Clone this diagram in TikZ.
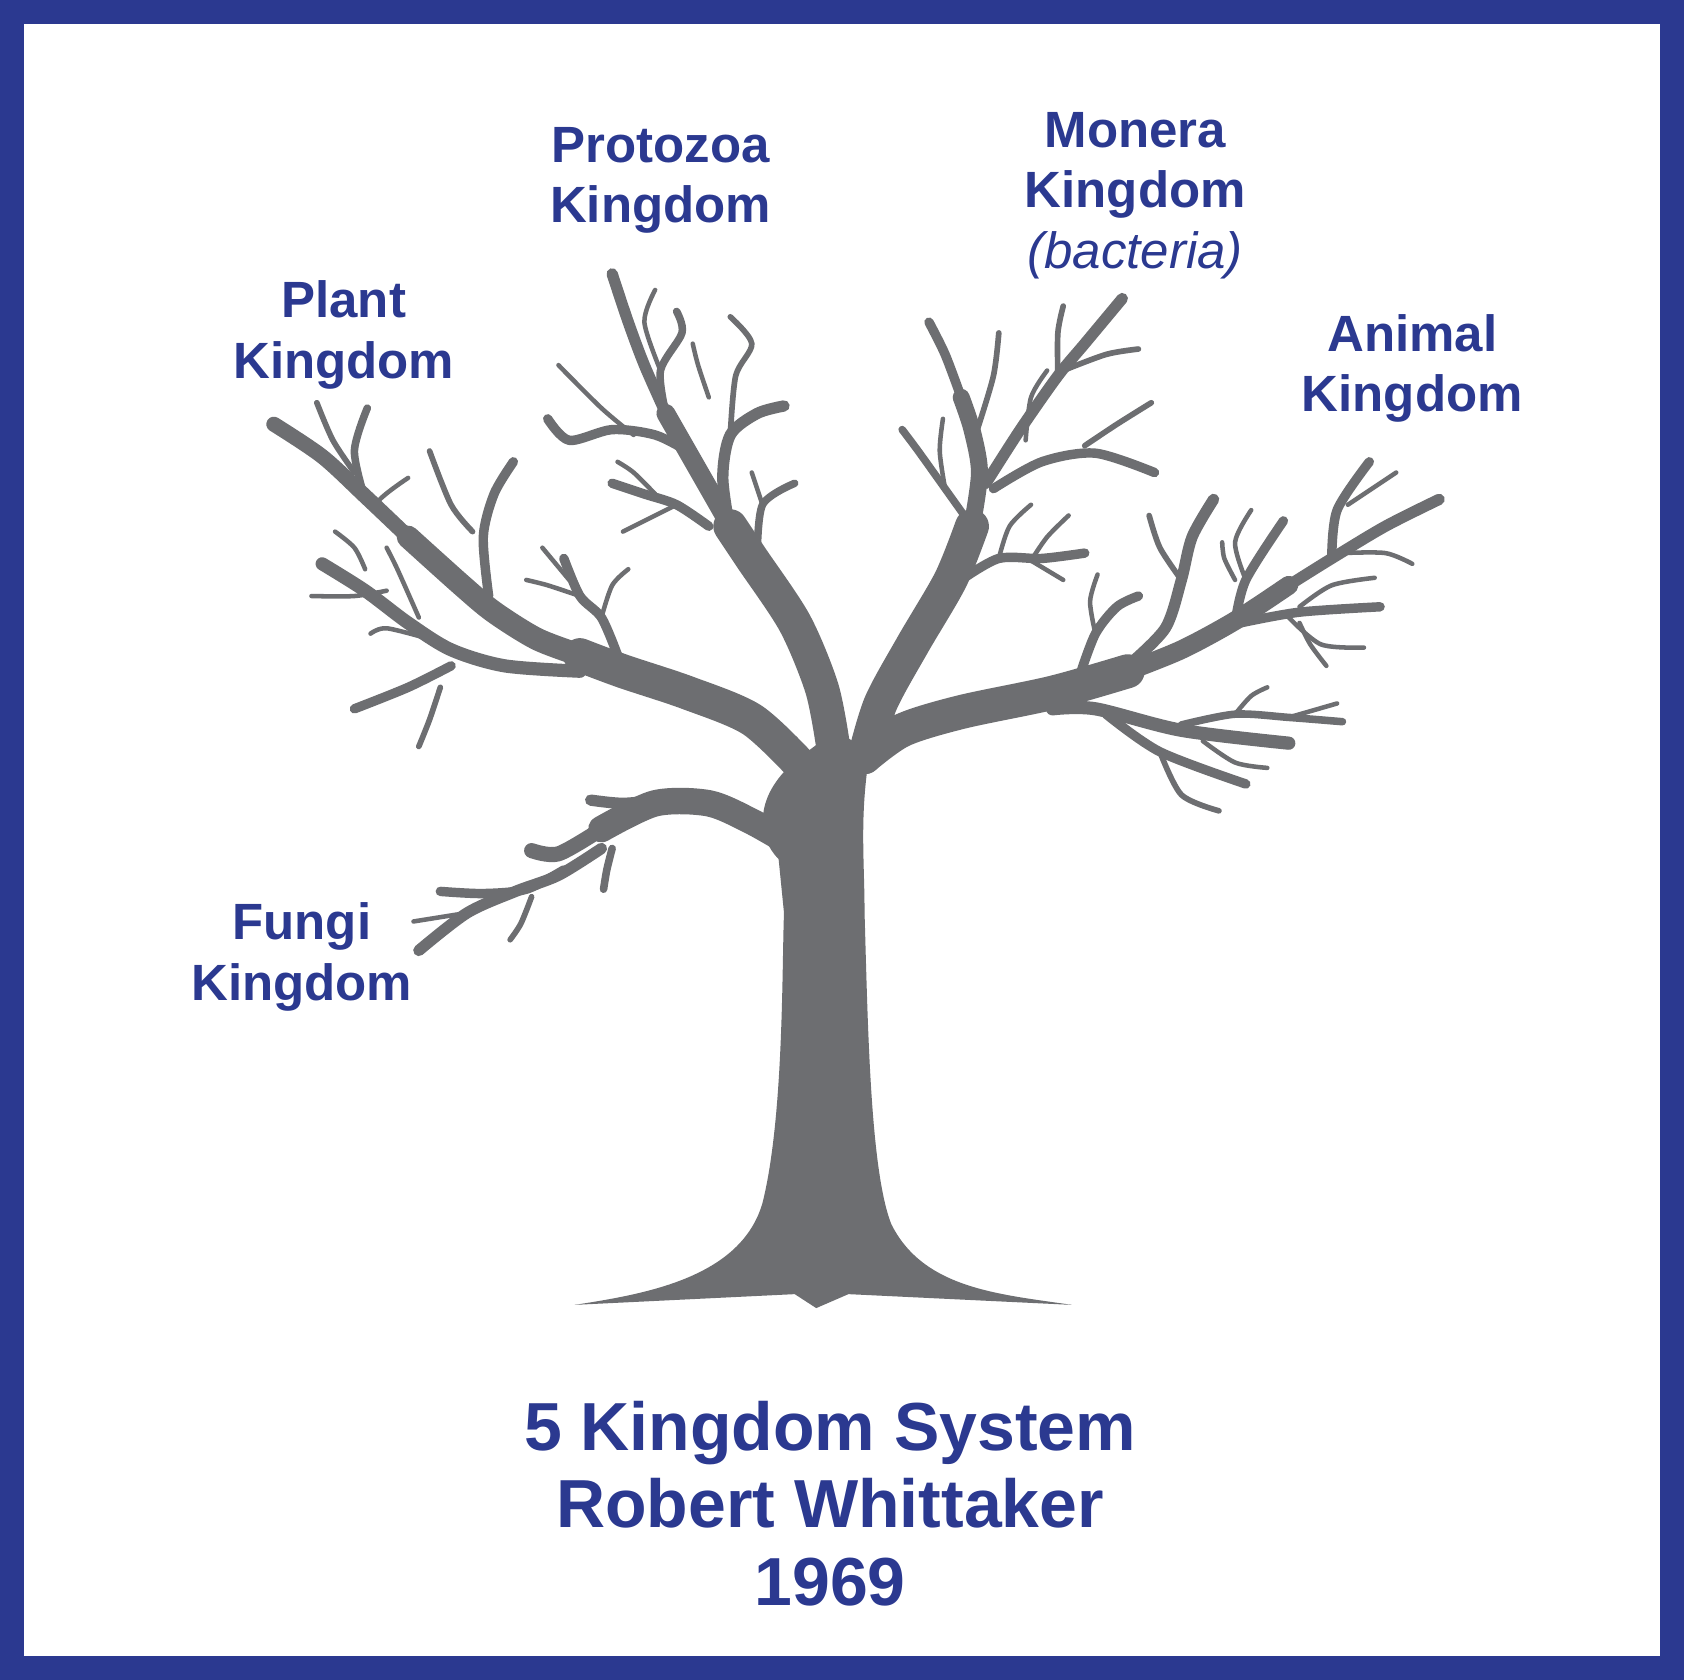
\documentclass[tikz,border=0pt]{standalone}
\usepackage{fontspec}
\setmainfont{Liberation Sans}
\definecolor{kblue}{HTML}{2B3990}
\definecolor{bark}{HTML}{6D6E71}
\tikzset{
  br/.style={draw=bark,line width=#1,line cap=round,line join=round},
  lab/.style={text=kblue,font=\bfseries\fontsize{13.5pt}{16pt}\selectfont,align=center},
}
\begin{document}
\begin{tikzpicture}[x=0.01cm,y=-0.01cm]
\useasboundingbox (0,0) rectangle (1568,1564);
\fill[kblue] (0,0) rectangle (1568,1564);
\fill[white] (22,22) rectangle (1546,1542);

% trunk
\fill[bark] (535,1215) .. controls (600,1205) and (690,1190) .. (710,1120)
  .. controls (730,1040) and (728,900) .. (730,850) -- (725,800)
  .. controls (705,780) and (700,740) .. (745,705) -- (778,680) -- (810,700)
  .. controls (800,760) and (805,800) .. (805,850)
  .. controls (808,950) and (810,1090) .. (830,1140)
  .. controls (860,1200) and (930,1205) .. (998,1215) -- (790,1205) -- (760,1218) -- (740,1205) -- cycle;

% plant
\draw[br=9pt] plot[smooth] coordinates {(745,712) (700,670) (640,645) (580,625) (540,610)};
\draw[br=6pt] plot[smooth] coordinates {(540,610) (500,595) (460,570) (430,545) (380,500)};
\draw[br=4pt] plot[smooth] coordinates {(380,500) (340,462) (300,425) (255,395)};
\draw[br=3.5pt] plot[smooth] coordinates {(540,625) (470,620) (420,605) (380,580) (340,550) (300,525)};
\draw[br=2.5pt] plot[smooth] coordinates {(455,555) (450,500) (460,460) (478,430)};
\draw[br=1.5pt] plot[smooth] coordinates {(440,495) (420,470) (400,420)};
\draw[br=2pt] plot[smooth] coordinates {(340,465) (330,420) (342,380)};
\draw[br=1.5pt] plot[smooth] coordinates {(330,440) (310,410) (295,375)};
\draw[br=2.5pt] plot[smooth] coordinates {(420,620) (380,640) (330,660)};
\draw[br=1.5pt] plot[smooth] coordinates {(410,640) (400,670) (390,695)};
\draw[br=1.2pt] plot[smooth] coordinates {(400,595) (360,585) (345,590)};
\draw[br=1.2pt] plot[smooth] coordinates {(390,575) (370,530) (360,510)};
\draw[br=1.2pt] plot[smooth] coordinates {(360,550) (330,555) (290,555)};
\draw[br=1.2pt] plot[smooth] coordinates {(340,530) (330,510) (312,495)};
\draw[br=1.2pt] plot[smooth] coordinates {(370,490) (350,470) (380,445)};
\draw[br=2.5pt] plot[smooth] coordinates {(575,610) (560,575) (540,555) (525,520)};
\draw[br=1.2pt] plot[smooth] coordinates {(560,575) (570,545) (585,530)};
\draw[br=1.2pt] plot[smooth] coordinates {(540,555) (510,545) (490,540)};
\draw[br=1.2pt] plot[smooth] coordinates {(530,540) (505,510)};

% protozoa
\draw[br=9pt] plot[smooth] coordinates {(775,690) (765,640) (740,580) (700,520) (680,490)};
\draw[br=5pt] plot[smooth] coordinates {(680,490) (660,455) (640,420) (620,385)};
\draw[br=3pt] plot[smooth] coordinates {(620,385) (600,340) (585,300) (570,255)};
\draw[br=3pt] plot[smooth] coordinates {(680,495) (673,445) (680,405) (705,385) (730,378)};
\draw[br=1.5pt] plot[smooth] coordinates {(680,405) (685,350) (700,320) (680,295)};
\draw[br=2pt] plot[smooth] coordinates {(705,520) (710,470) (740,450)};
\draw[br=1.2pt] plot[smooth] coordinates {(710,470) (700,440)};
\draw[br=2.5pt] plot[smooth] coordinates {(660,490) (630,470) (600,460) (570,450)};
\draw[br=1.2pt] plot[smooth] coordinates {(630,470) (600,485) (580,495)};
\draw[br=1.2pt] plot[smooth] coordinates {(610,460) (590,440) (575,430)};
\draw[br=2.5pt] plot[smooth] coordinates {(640,420) (610,405) (570,400) (530,410) (510,390)};
\draw[br=1.2pt] plot[smooth] coordinates {(590,405) (560,380) (520,340)};
\draw[br=2pt] plot[smooth] coordinates {(620,385) (615,345) (635,310) (630,290)};
\draw[br=1.2pt] plot[smooth] coordinates {(615,345) (600,300) (610,270)};
\draw[br=1.2pt] plot[smooth] coordinates {(660,370) (650,340) (645,320)};

% monera
\draw[br=9pt] plot[smooth] coordinates {(805,705) (820,655) (850,600) (885,540) (905,490)};
\draw[br=4.5pt] plot[smooth] coordinates {(905,490) (912,440) (905,400) (895,370)};
\draw[br=2.5pt] plot[smooth] coordinates {(895,370) (880,330) (865,300)};
\draw[br=3pt] plot[smooth] coordinates {(918,450) (950,400) (985,350) (1010,320) (1045,278)};
\draw[br=2.5pt] plot[smooth] coordinates {(925,455) (970,430) (1020,422) (1075,440)};
\draw[br=1.5pt] plot[smooth] coordinates {(985,350) (985,310) (990,285)};
\draw[br=1.5pt] plot[smooth] coordinates {(990,345) (1030,330) (1060,325)};
\draw[br=1.5pt] plot[smooth] coordinates {(1010,415) (1040,395) (1072,375)};
\draw[br=1.2pt] plot[smooth] coordinates {(955,410) (960,370) (975,345)};
\draw[br=1.5pt] plot[smooth] coordinates {(910,400) (925,350) (930,310)};
\draw[br=2pt] plot[smooth] coordinates {(905,490) (880,455) (855,420) (840,400)};
\draw[br=1.2pt] plot[smooth] coordinates {(880,455) (875,420) (878,390)};
\draw[br=2.5pt] plot[smooth] coordinates {(895,540) (930,520) (970,520) (1010,515)};
\draw[br=1.2pt] plot[smooth] coordinates {(930,520) (940,490) (960,470)};
\draw[br=1.2pt] plot[smooth] coordinates {(960,522) (975,500) (995,480)};
\draw[br=1.2pt] plot[smooth] coordinates {(960,522) (990,540)};

% animal
\draw[br=9pt] plot[smooth] coordinates {(805,705) (840,680) (895,663) (980,645) (1050,625)};
\draw[br=5pt] plot[smooth] coordinates {(1050,625) (1100,605) (1150,578) (1200,545)};
\draw[br=3pt] plot[smooth] coordinates {(1200,545) (1240,520) (1290,490) (1340,465)};
\draw[br=3pt] plot[smooth] coordinates {(1050,620) (1085,585) (1100,540) (1110,500) (1130,465)};
\draw[br=1.5pt] plot[smooth] coordinates {(1100,540) (1080,510) (1070,480)};
\draw[br=2.5pt] plot[smooth] coordinates {(1150,580) (1160,540) (1195,485)};
\draw[br=1.2pt] plot[smooth] coordinates {(1160,540) (1150,505) (1165,475)};
\draw[br=2.5pt] plot[smooth] coordinates {(1240,520) (1245,475) (1275,430)};
\draw[br=1.2pt] plot[smooth] coordinates {(1255,470) (1300,440)};
\draw[br=1.2pt] plot[smooth] coordinates {(1250,515) (1290,515) (1315,525)};
\draw[br=2.5pt] plot[smooth] coordinates {(1155,580) (1210,570) (1285,565)};
\draw[br=1.2pt] plot[smooth] coordinates {(1200,575) (1230,600) (1270,603)};
\draw[br=1.2pt] plot[smooth] coordinates {(1210,580) (1220,600) (1235,620)};
\draw[br=1.2pt] plot[smooth] coordinates {(1210,565) (1240,545) (1280,538)};
\draw[br=3.5pt] plot[smooth] coordinates {(980,660) (1020,660) (1100,680) (1200,692)};
\draw[br=2pt] plot[smooth] coordinates {(1100,675) (1150,665) (1200,668) (1250,672)};
\draw[br=1.2pt] plot[smooth] coordinates {(1150,665) (1165,648) (1180,640)};
\draw[br=1.2pt] plot[smooth] coordinates {(1200,668) (1245,655)};
\draw[br=2.5pt] plot[smooth] coordinates {(1030,665) (1080,700) (1160,730)};
\draw[br=1.5pt] plot[smooth] coordinates {(1080,700) (1100,740) (1135,755)};
\draw[br=1.2pt] plot[smooth] coordinates {(1120,690) (1150,710) (1180,715)};
\draw[br=2.5pt] plot[smooth] coordinates {(1005,630) (1020,590) (1040,565) (1060,555)};
\draw[br=1.2pt] plot[smooth] coordinates {(1020,590) (1015,560) (1022,535)};
\draw[br=1.2pt] plot[smooth] coordinates {(1150,540) (1140,520) (1138,505)};

% fungi
\draw[br=7pt] plot[smooth] coordinates {(735,785) (700,765) (660,748) (610,748) (560,772)};
\draw[br=4pt] plot[smooth] coordinates {(560,772) (520,795) (495,792)};
\draw[br=3pt] plot[smooth] coordinates {(560,790) (520,815) (480,830) (435,850) (390,885)};
\draw[br=2.5pt] plot[smooth] coordinates {(525,810) (490,828) (450,832) (410,830)};
\draw[br=1.2pt] plot[smooth] coordinates {(435,850) (385,858)};
\draw[br=1.5pt] plot[smooth] coordinates {(495,835) (485,860) (475,875)};
\draw[br=2pt] plot[smooth] coordinates {(570,790) (565,810) (562,828)};
\draw[br=3pt] plot[smooth] coordinates {(660,748) (620,745) (580,748) (550,745)};

% labels
\node[lab] (plant) at (320,312) {Plant\\Kingdom};
\node[lab] (protozoa) at (615,168) {Protozoa\\Kingdom};
\node[lab] (monera) at (1057,182) {Monera\\Kingdom\\{\mdseries\itshape(bacteria)}};
\node[lab] (animal) at (1315,343) {Animal\\Kingdom};
\node[lab] (fungi) at (281,891) {Fungi\\Kingdom};
\node[lab,font=\bfseries\fontsize{18pt}{20.5pt}\selectfont] (title) at (773,1400) {5 Kingdom System\\Robert Whittaker\\1969};
\end{tikzpicture}
\end{document}
